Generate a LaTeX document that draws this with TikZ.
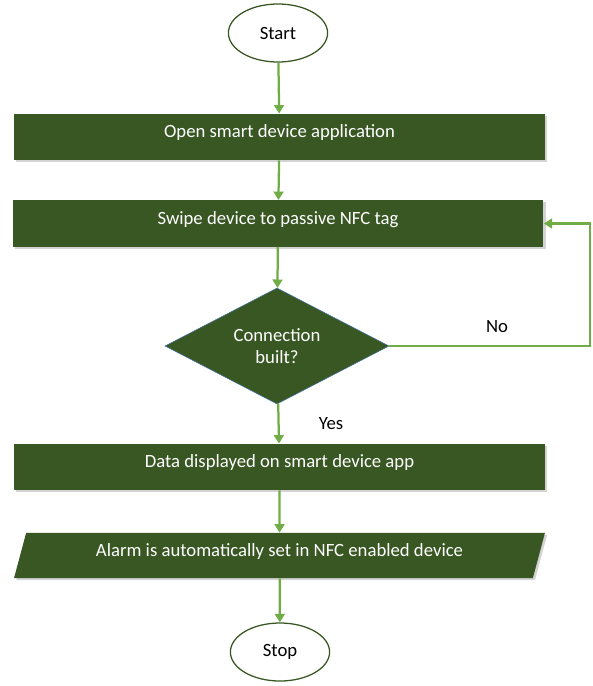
\documentclass[tikz,border=0pt]{standalone}
\usepackage{fontspec}
\setmainfont{Carlito}
\usetikzlibrary{shapes.geometric,shadows,arrows.meta}
\definecolor{boxgreen}{RGB}{56,87,35}
\definecolor{linegreen}{RGB}{112,173,71}
\definecolor{edgeblue}{RGB}{65,113,156}
\begin{document}
\begin{tikzpicture}[x=0.025cm,y=-0.025cm,>={Triangle[length=6pt,width=7pt]},
  font=\fontsize{13.3}{16}\selectfont,
  term/.style={ellipse,draw=boxgreen,line width=0.9pt,fill=white,minimum width=2.48cm,minimum height=1.45cm,inner sep=0pt},
  procbox/.style={rectangle,fill=boxgreen,text=white,minimum width=13.27cm,minimum height=1.16cm,
    text height=9pt,text depth=8pt,
    drop shadow={shadow xshift=1.5pt,shadow yshift=-1.5pt,opacity=0.35}},
  iobox/.style={trapezium,trapezium left angle=70,trapezium right angle=110,trapezium stretches body,
    fill=boxgreen,text=white,minimum width=13.27cm,minimum height=1.13cm,inner xsep=0pt,
    text height=9pt,text depth=8pt,
    drop shadow={shadow xshift=1.5pt,shadow yshift=-1.5pt,opacity=0.35}},
  decision/.style={diamond,fill=boxgreen,draw=edgeblue,line width=0.4pt,text=white,align=center,
    shape aspect=1.9,minimum width=5.6cm,minimum height=2.9cm,inner sep=0pt},
  flow/.style={->,draw=linegreen,line width=1.6pt}]
\useasboundingbox (0,0) rectangle (593,686);
\node[term] (start) at (278,33) {Start};
\node[procbox] (open) at (279.5,137) {Open smart device application};
\node[procbox] (swipe) at (278,223.5) {Swipe device to passive NFC tag};
\node[decision] (conn) at (277,346) {Connection\\built?};
\node[procbox] (data) at (279.5,467) {Data displayed on smart device app};
\node[iobox] (alarm) at (279.5,555.5) {Alarm is automatically set in NFC enabled device};
\node[term] (stop) at (280,652) {Stop};
\node (yes) at (331,424) {Yes};
\node (no) at (497,327) {No};
% connectors
\draw[flow] (start) -- (open);
\draw[flow] (open) -- (swipe);
\draw[flow] (swipe) -- (conn);
\draw[flow] (conn) -- (data);
\draw[flow] (data) -- (alarm);
\draw[flow] (alarm) -- (stop);
\draw[flow] (conn.east) -- ++(201,0) |- (swipe.east);
\end{tikzpicture}
\end{document}
